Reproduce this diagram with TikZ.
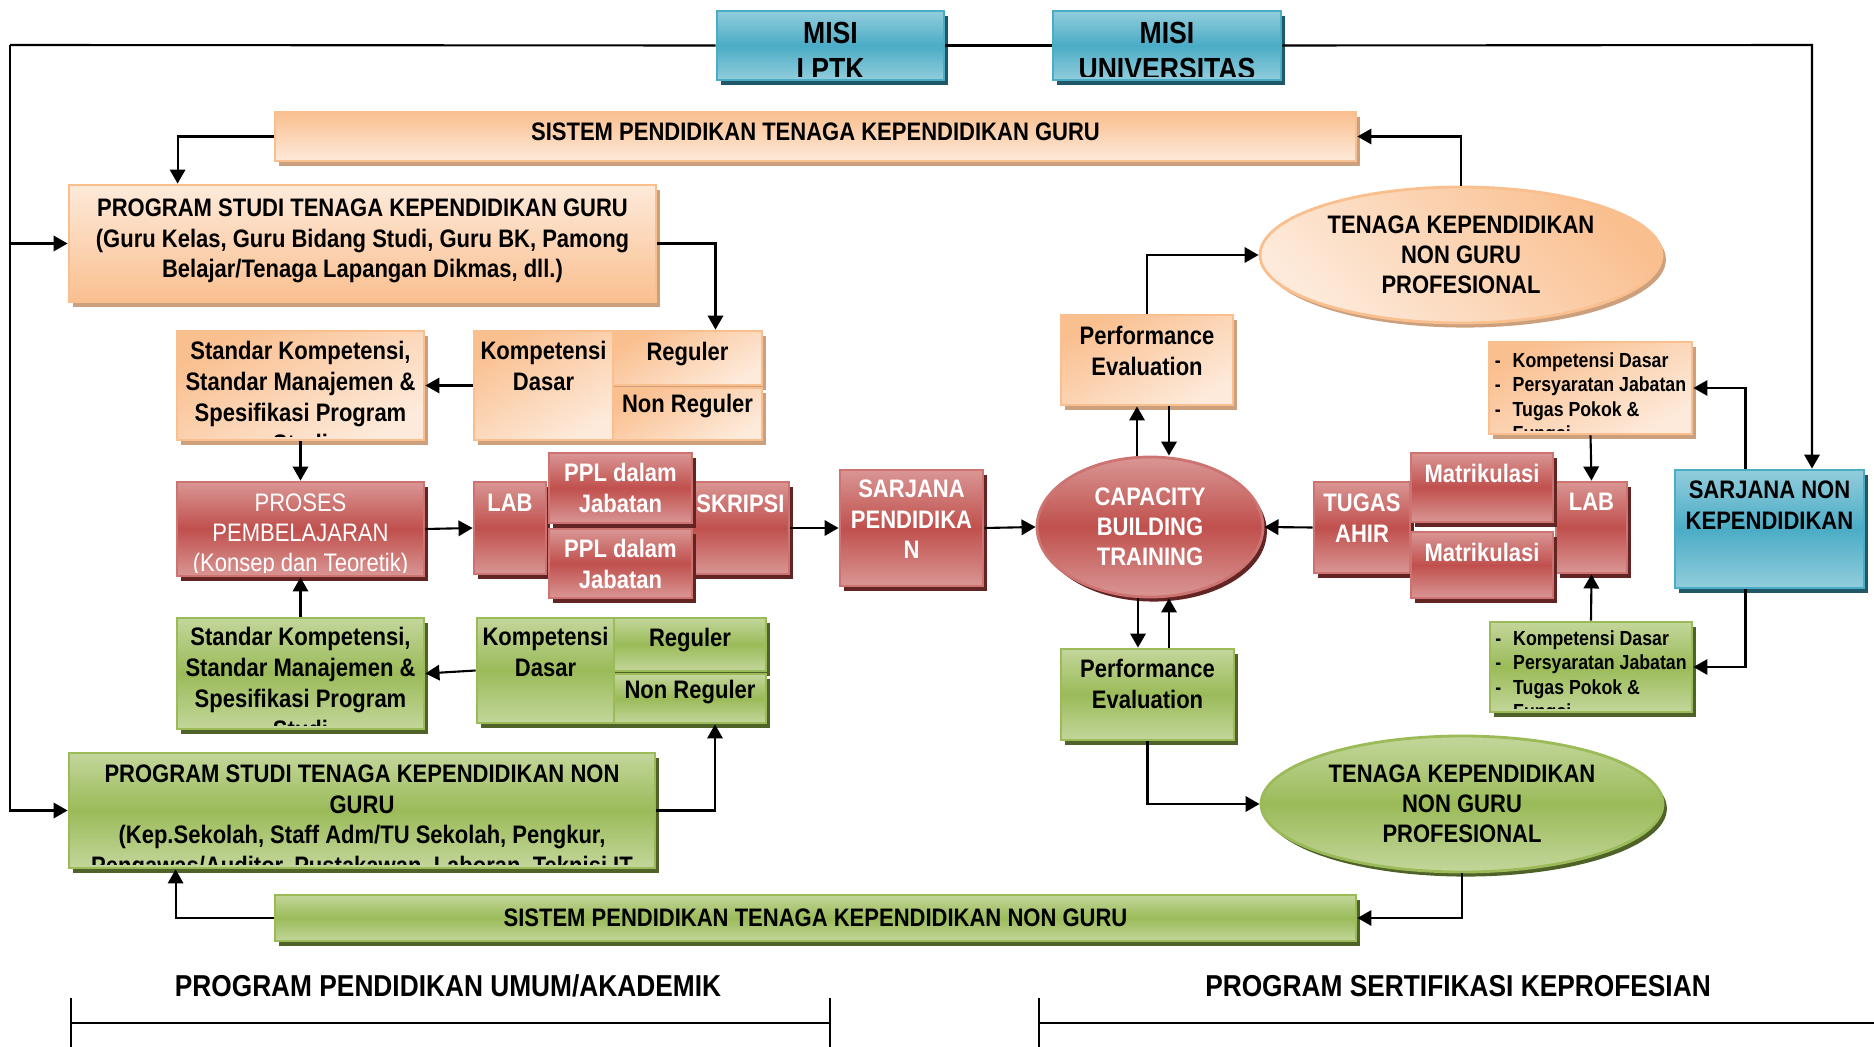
\documentclass[tikz,border=0pt]{standalone}
\usepackage{fontspec}
\setmainfont{Liberation Sans}[FakeStretch=0.87]
\usetikzlibrary{arrows.meta, shapes.geometric, shadows}

\definecolor{orgdk}{RGB}{250,191,143}
\definecolor{orglt}{RGB}{253,234,218}
\definecolor{orgshd}{RGB}{205,160,125}
\definecolor{redlt}{RGB}{217,150,148}
\definecolor{redmd}{RGB}{192,80,77}
\definecolor{redshd}{RGB}{99,37,35}
\definecolor{grnlt}{RGB}{195,214,155}
\definecolor{grnmd}{RGB}{155,187,89}
\definecolor{grnshd}{RGB}{79,98,40}
\definecolor{blult}{RGB}{146,205,220}
\definecolor{blumd}{RGB}{75,172,198}
\definecolor{blushd}{RGB}{32,88,103}

\tikzset{
  orgbox/.style={rectangle, inner sep=0pt, draw=orgdk, line width=0.8pt, top color=orgdk, bottom color=orglt, shading angle=30, drop shadow={shadow xshift=1.1pt, shadow yshift=-1.3pt, fill=orgshd, opacity=1}},
  redbox/.style={rectangle, inner sep=0pt, draw=redmd!80!white, line width=0.8pt, top color=redlt, bottom color=redlt, middle color=redmd, drop shadow={shadow xshift=1.1pt, shadow yshift=-1.3pt, fill=redshd, opacity=1}},
  grnbox/.style={rectangle, inner sep=0pt, draw=grnmd, line width=0.8pt, top color=grnlt, bottom color=grnlt, middle color=grnmd, drop shadow={shadow xshift=1.1pt, shadow yshift=-1.3pt, fill=grnshd, opacity=1}},
  blubox/.style={rectangle, inner sep=0pt, draw=blumd, line width=0.8pt, top color=blult, bottom color=blult, middle color=blumd, drop shadow={shadow xshift=1.1pt, shadow yshift=-1.3pt, fill=blushd, opacity=1}},
  orgell/.style={orgbox, ellipse, shading angle=-45, align=center, font=\bfseries\fontsize{7.2}{8.6}\selectfont},
  redell/.style={redbox, ellipse, align=center, text=white, font=\bfseries\fontsize{7.2}{8.6}\selectfont},
  grnell/.style={grnbox, ellipse, align=center, font=\bfseries\fontsize{7.2}{8.6}\selectfont},
  dtxt/.style={anchor=north, inner sep=0pt, minimum width=0pt, minimum height=0pt, align=center, text=black, font=\bfseries\fontsize{7.2}{8.8}\selectfont},
  wtxt/.style={dtxt, text=white},
  ptxt/.style={dtxt, text=white, font=\fontsize{7.2}{8.6}\selectfont},
  mtxt/.style={dtxt, font=\bfseries\fontsize{8.7}{10.3}\selectfont},
  btxt/.style={dtxt, align=left, font=\bfseries\fontsize{5.8}{7}\selectfont},
  ttxt/.style n args={3}{path picture={
    \clip ([yshift=0.9pt]path picture bounding box.south west) rectangle (path picture bounding box.north east);
    \node[#1] at ([yshift=-#2]path picture bounding box.north) {#3};}},
  bartxt/.style={font=\bfseries\fontsize{7.2}{9.1}\selectfont},
  link/.style={line width=0.6pt, -{Triangle[length=4pt,width=4.4pt]}},
}

\begin{document}
\begin{tikzpicture}[x=0.1mm, y=-0.1mm]
\useasboundingbox (0,0) rectangle (1874,1047);

\node[blubox, minimum width=22.7mm, minimum height=6.9mm, ttxt={mtxt}{1mm}{MISI\\I PTK}] (misiA) at (830.5,45.5) {};
\node[blubox, minimum width=22.8mm, minimum height=6.9mm, ttxt={mtxt}{1mm}{MISI\\UNIVERSITAS}] (misiU) at (1167,45.5) {};

\node[orgbox, shading angle=0, minimum width=108.1mm, minimum height=4.9mm, bartxt, text depth=2.8pt] (sisG) at (815.5,136.5) {SISTEM PENDIDIKAN TENAGA KEPENDIDIKAN GURU};
\node[orgbox, shading angle=180, minimum width=58.7mm, minimum height=11.7mm, ttxt={dtxt}{1.2mm}{PROGRAM STUDI TENAGA KEPENDIDIKAN GURU\\(Guru Kelas, Guru Bidang Studi, Guru BK, Pamong\\Belajar/Tenaga Lapangan Dikmas, dll.)}] (progG) at (362.5,243.5) {};
\node[orgbox, minimum width=24.7mm, minimum height=10.9mm, ttxt={dtxt}{0.9mm}{Standar Kompetensi,\\Standar Manajemen \&\\Spesifikasi Program\\Studi}] (stdG) at (300.5,385.5) {};
\node[orgbox, minimum width=13.9mm, minimum height=10.9mm, ttxt={dtxt}{0.9mm}{Kompetensi\\Dasar}] (kdG) at (543.5,385.5) {};
\node[orgbox, minimum width=14.9mm, minimum height=5.4mm, ttxt={dtxt}{1mm}{Reguler}] (regG) at (687.5,358) {};
\node[orgbox, minimum width=14.9mm, minimum height=5.2mm, ttxt={dtxt}{0.5mm}{Non Reguler}] (nregG) at (687.5,414) {};
\node[orgbox, minimum width=17.2mm, minimum height=9mm, ttxt={dtxt}{1mm}{Performance\\Evaluation}] (peA) at (1147,360) {};
\node[orgell, minimum width=40.2mm, minimum height=13.6mm] (tngA) at (1461,255) {TENAGA KEPENDIDIKAN\\NON GURU\\PROFESIONAL};
\node[orgbox, minimum width=20.3mm, minimum height=9.2mm, ttxt={btxt}{0.9mm}{-\hspace{1.2mm}Kompetensi Dasar\\-\hspace{1.2mm}Persyaratan Jabatan\\-\hspace{1.2mm}Tugas Pokok \&\\\phantom{-}\hspace{1.2mm}Fungsi}] (bulA) at (1590.5,388) {};

\node[redbox, minimum width=24.7mm, minimum height=9.4mm, ttxt={ptxt}{1mm}{PROSES\\PEMBELAJARAN\\(Konsep dan Teoretik)}] (proses) at (300.5,529) {};
\node[redbox, minimum width=7.2mm, minimum height=9.2mm, ttxt={wtxt}{1.1mm}{LAB}] (labL) at (510,528) {};
\node[redbox, minimum width=9.7mm, minimum height=9.2mm, ttxt={wtxt}{1.1mm}{SKRIPSI}] (skr) at (740.5,528) {};
\node[redbox, minimum width=14.3mm, minimum height=7mm, ttxt={wtxt}{0.9mm}{PPL dalam\\Jabatan}] (pplA) at (620.5,488) {};
\node[redbox, minimum width=14.3mm, minimum height=6.9mm, ttxt={wtxt}{0.9mm}{PPL dalam\\Jabatan}] (pplB) at (620.5,563.5) {};
\node[redbox, minimum width=14.3mm, minimum height=11.6mm, ttxt={wtxt}{0.8mm}{SARJANA\\PENDIDIKA\\N}] (sarjP) at (911.5,528) {};
\node[redell, minimum width=22.6mm, minimum height=14mm] (cbt) at (1150,527) {CAPACITY\\BUILDING\\TRAINING};
\node[redbox, minimum width=9.6mm, minimum height=9.1mm, ttxt={wtxt}{1mm}{TUGAS\\AHIR}] (tgs) at (1362,527.5) {};
\node[redbox, minimum width=7.1mm, minimum height=9.1mm, ttxt={wtxt}{1mm}{LAB}] (labR) at (1591.5,527.5) {};
\node[redbox, minimum width=14.2mm, minimum height=6.9mm, ttxt={wtxt}{1mm}{Matrikulasi}] (mtrA) at (1482,487.5) {};
\node[redbox, minimum width=14.2mm, minimum height=6.6mm, ttxt={wtxt}{1mm}{Matrikulasi}] (mtrB) at (1482,565) {};

\node[blubox, minimum width=18.9mm, minimum height=11.8mm, ttxt={dtxt}{0.9mm}{SARJANA NON\\KEPENDIDIKAN}] (sarjNon) at (1769.5,529) {};

\node[grnbox, minimum width=24.7mm, minimum height=11.1mm, ttxt={dtxt}{0.8mm}{Standar Kompetensi,\\Standar Manajemen \&\\Spesifikasi Program\\Studi}] (stdN) at (300.5,673.5) {};
\node[grnbox, minimum width=13.7mm, minimum height=10.5mm, ttxt={dtxt}{0.8mm}{Kompetensi\\Dasar}] (kdN) at (545.5,670.5) {};
\node[grnbox, minimum width=15.2mm, minimum height=5.3mm, ttxt={dtxt}{0.9mm}{Reguler}] (regN) at (690,644.5) {};
\node[grnbox, minimum width=15.2mm, minimum height=4.9mm, ttxt={dtxt}{0.5mm}{Non Reguler}] (nregN) at (690,698.5) {};
\node[grnbox, minimum width=58.6mm, minimum height=11.5mm, ttxt={dtxt}{1mm}{PROGRAM STUDI TENAGA KEPENDIDIKAN NON\\GURU\\(Kep.Sekolah, Staff Adm/TU Sekolah, Pengkur,\\Pengawas/Auditor, Pustakawan, Laboran, Teknisi IT}] (progN) at (362,810.5) {};
\node[grnbox, minimum width=108.1mm, minimum height=4.6mm, bartxt] (sisN) at (815.5,918) {SISTEM PENDIDIKAN TENAGA KEPENDIDIKAN NON GURU};
\node[grnbox, minimum width=17.3mm, minimum height=9.1mm, ttxt={dtxt}{0.9mm}{Performance\\Evaluation}] (peN) at (1147.5,694.5) {};
\node[grnell, minimum width=40.2mm, minimum height=13.6mm] (tngN) at (1462,804) {TENAGA KEPENDIDIKAN\\NON GURU\\PROFESIONAL};
\node[grnbox, minimum width=20.2mm, minimum height=9mm, ttxt={btxt}{0.7mm}{-\hspace{1.2mm}Kompetensi Dasar\\-\hspace{1.2mm}Persyaratan Jabatan\\-\hspace{1.2mm}Tugas Pokok \&\\\phantom{-}\hspace{1.2mm}Fungsi}] (bulN) at (1591,667) {};

\node[font=\bfseries\fontsize{8.6}{10}\selectfont] (lblU) at (448,986) {PROGRAM PENDIDIKAN UMUM/AKADEMIK};
\node[font=\bfseries\fontsize{8.6}{10}\selectfont] (lblS) at (1458,986) {PROGRAM SERTIFIKASI KEPROFESIAN};

\coordinate (lt) at (10,45);
\coordinate (rt) at (1812,45);
\draw[line width=0.6pt] (misiA.west) -- (lt);
\draw[link] (lt) |- (progN.west);
\draw[link] (lt |- progG.west) -- (progG.west);
\draw[line width=0.6pt] (misiA.east) -- (misiU.west);
\draw[link] (misiU.east) -- (rt) -- (rt |- sarjNon.north);

\draw[link] (sisG.west) -| ([xshift=11mm]progG.north west);
\draw[link] (tngA.north) |- (sisG.east);
\draw[link] (progG.east) -| ([xshift=2.8mm]regG.north);
\draw[link] (kdG.west) -- (stdG.east);
\draw[link] (stdG.south) -- (proses.north);
\draw[link] (proses.east) -- (labL.west);
\draw[link] (skr.east) -- (sarjP.west);
\draw[link] (sarjP.east) -- (cbt.west);

\coordinate (pa1) at ([xshift=-1mm]peA.south);
\coordinate (pa2) at ([xshift=2.2mm]peA.south);
\draw[link] (pa1 |- cbt.north) -- (pa1);
\draw[link] (pa2) -- (pa2 |- cbt.north);
\draw[link] (peA.north) |- (tngA.west);
\draw[link] (tgs.west) -- (cbt.east);
\draw[link] ([xshift=-2.4mm]sarjNon.north) |- (bulA.east);
\draw[link] (bulA.south) -- (labR.north);
\draw[link] ([xshift=-2.4mm]sarjNon.south) |- (bulN.east);
\draw[link] (bulN.north) -- (labR.south);

\coordinate (pb1) at ([xshift=-0.95mm]peN.north);
\coordinate (pb2) at ([xshift=2.15mm]peN.north);
\draw[link] (pb1 |- cbt.south) -- (pb1);
\draw[link] (pb2) -- (pb2 |- cbt.south);
\draw[link] (peN.south) |- (tngN.west);
\draw[link] (tngN.south) |- (sisN.east);
\draw[link] (sisN.west) -| ([xshift=10.8mm]progN.south west);
\draw[link] (progN.east) -| ([xshift=2.5mm]nregN.south);
\draw[link] (kdN.west) -- (stdN.east);
\draw[link] (stdN.north) -- (proses.south);

\draw[line width=0.6pt] (71,998) -- (71,1047) (830,998) -- (830,1047) (71,1023) -- (830,1023);
\draw[line width=0.6pt] (1039,998) -- (1039,1047) (1039,1023) -- (1874,1023);
\end{tikzpicture}
\end{document}
